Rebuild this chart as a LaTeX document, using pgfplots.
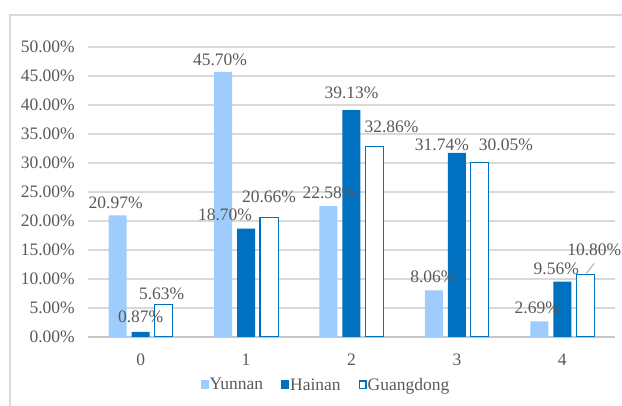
\documentclass[border=0pt]{standalone}
\usepackage{pgfplots}
\pgfplotsset{compat=1.18}
\usepackage{fontspec}
\setmainfont{Liberation Serif}
\definecolor{txt}{HTML}{595959}
\definecolor{yn}{HTML}{9DCCFD}
\definecolor{hn}{HTML}{0070C0}
\definecolor{gridc}{HTML}{D9D9D9}
\pgfplotsset{/pgf/number format/assume math mode=true}
\newcommand\lf{\fontsize{17.5bp}{20bp}\selectfont}
\pgfplotstableread{
x y dx dy
0 20.97 -2 13
1 45.70 -3 12
2 22.58 1 13
3 8.06 -1 13
4 2.69 -2 14
}\yunnan
\pgfplotstableread{
x y dx dy
0 0.87 0 15
1 18.70 -21 14
2 39.13 0 17
3 31.74 -15 8
4 9.56 -6 13
}\hainan
\pgfplotstableread{
x y dx dy
0 5.63 -2 11
1 20.66 0 20
2 32.86 17 20
3 30.05 26 18
4 10.80 9 25
}\guangdong
\begin{document}
\begin{tikzpicture}
\useasboundingbox (0,0) rectangle (622bp,406bp);
\draw[gridc, line width=1.2bp] (10bp,0) -- (10bp,391bp) -- (622bp,391bp);
\begin{axis}[
  at={(88bp,69bp)}, anchor=south west,
  scale only axis, width=527bp, height=290bp,
  ymin=0, ymax=50, xmin=-0.5, xmax=4.5,
  ytick={0,5,...,50}, xtick={0,1,2,3,4},
  yticklabel={\pgfmathprintnumber[fixed,fixed zerofill,precision=2]{\tick}\%},
  xticklabel={\pgfmathprintnumber{\tick}},
  ymajorgrids, grid style={gridc, line width=1.2bp},
  axis x line*=bottom, axis y line*=left,
  y axis line style={draw=none},
  x axis line style={draw=gridc!80!gray, line width=1.2bp},
  major tick length=0pt,
  tick label style={font=\lf, text=txt},
  yticklabel style={anchor=east, inner sep=0pt, xshift=-13bp},
  xticklabel style={anchor=center, inner sep=0pt, yshift=-23bp},
  ybar, bar width=18bp,
  nodes near coords={\pgfmathprintnumber[fixed,fixed zerofill,precision=2]{\pgfplotspointmeta}\%},
  visualization depends on={\thisrow{dx} \as \dx},
  visualization depends on={\thisrow{dy} \as \dy},
  every node near coord/.append style={anchor=center, inner sep=0pt, xshift=\dx bp, yshift=\dy bp, font=\lf, text=txt},
  legend columns=3,
  legend style={draw=none, fill=none, at={(0.4507,-0.1655)}, anchor=center, font=\lf, text=txt,
    nodes={inner sep=1bp}, /tikz/every even column/.append style={column sep=17bp}},
]
\addplot[fill=yn, draw=none, bar shift=-23bp,
  legend image code/.code={\fill[yn] (0bp,-4.5bp) rectangle (8bp,4.5bp);}] table[x=x,y=y] {\yunnan};
\addlegendentry{Yunnan}
\addplot[fill=hn, draw=none, bar shift=0bp,
  legend image code/.code={\fill[hn] (0bp,-4.5bp) rectangle (8bp,4.5bp);}] table[x=x,y=y] {\hainan};
\addlegendentry{Hainan}
\addplot[fill=white, draw=hn, line width=1.2bp, bar shift=23bp,
  legend image code/.code={\draw[hn, fill=white, line width=1.2bp] (0.6bp,-3.9bp) rectangle (7.4bp,3.9bp);}] table[x=x,y=y] {\guangdong};
\addlegendentry{Guangdong}
\draw[txt!60, line width=0.8bp] ([xshift=24bp,yshift=1bp]axis cs:4,10.8) -- ([xshift=32bp,yshift=11bp]axis cs:4,10.8);
\end{axis}
\end{tikzpicture}
\end{document}
